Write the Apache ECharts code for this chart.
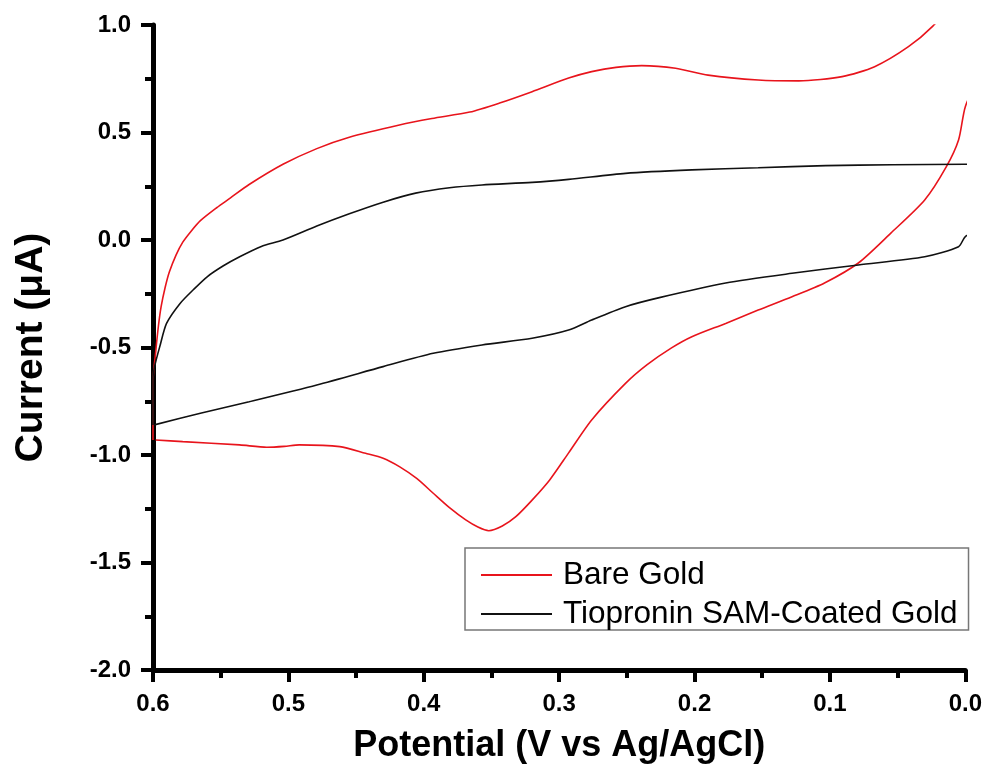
<!DOCTYPE html>
<html>
<head>
<meta charset="utf-8">
<script src="https://cdn.jsdelivr.net/npm/echarts@6/dist/echarts.min.js"></script>
<style>html,body{margin:0;padding:0;background:#fff}#c{width:985px;height:774px}</style>
</head>
<body>
<div id="c"></div>
<script>
var seriesNames = ['Bare Gold', 'Tiopronin SAM-Coated Gold'];
var xTicks = [0.6, 0.5, 0.4, 0.3, 0.2, 0.1, 0.0];
var yTicks = [1.0, 0.5, 0.0, -0.5, -1.0, -1.5, -2.0];

// Bare Gold cyclic voltammogram (potential V, current uA)
var bareX = [0.600, 0.600, 0.598, 0.596, 0.594, 0.591, 0.588, 0.583, 0.578, 0.572, 0.565, 0.553, 0.543, 0.529, 0.504, 0.479, 0.455, 0.418, 0.394, 0.366, 0.344, 0.320, 0.293, 0.276, 0.258, 0.239, 0.214, 0.190, 0.153, 0.123, 0.091, 0.067, 0.042, 0.024, 0.010, -0.020,
  -0.020, 0.000, 0.005, 0.014, 0.030, 0.055, 0.079, 0.104, 0.128, 0.153, 0.177, 0.202, 0.217, 0.235, 0.251, 0.276, 0.293, 0.307, 0.320, 0.332, 0.342, 0.352, 0.360, 0.369, 0.381, 0.393, 0.405, 0.418, 0.430, 0.443, 0.462, 0.492, 0.503, 0.516, 0.536, 0.578, 0.598];
var bareY = [-0.93, -0.66, -0.52, -0.40, -0.31, -0.22, -0.15, -0.07, -0.01, 0.04, 0.09, 0.15, 0.195, 0.258, 0.352, 0.425, 0.478, 0.535, 0.565, 0.595, 0.637, 0.69, 0.753, 0.783, 0.803, 0.811, 0.799, 0.767, 0.744, 0.740, 0.760, 0.806, 0.899, 0.995, 1.10, 1.40,
  0.95, 0.62, 0.465, 0.341, 0.186, 0.032, -0.107, -0.20, -0.264, -0.326, -0.388, -0.45, -0.502, -0.58, -0.667, -0.837, -0.99, -1.116, -1.21, -1.287, -1.33, -1.352, -1.335, -1.302, -1.245, -1.178, -1.11, -1.054, -1.015, -0.992, -0.961, -0.953, -0.96, -0.964, -0.953, -0.938, -0.93];

// Tiopronin SAM-coated gold
var samX = [0.600, 0.600, 0.5985, 0.595, 0.590, 0.580, 0.570, 0.560, 0.548, 0.536, 0.520, 0.504, 0.479, 0.455, 0.430, 0.406, 0.381, 0.357, 0.320, 0.293, 0.251, 0.202, 0.153, 0.103, 0.054, 0.000, -0.020,
  -0.020, 0.000, 0.005, 0.030, 0.079, 0.128, 0.177, 0.226, 0.251, 0.276, 0.293, 0.320, 0.357, 0.393, 0.430, 0.479, 0.529, 0.565, 0.599];
var samY = [-0.86, -0.64, -0.58, -0.496, -0.388, -0.295, -0.23, -0.171, -0.12, -0.078, -0.03, 0.0, 0.065, 0.122, 0.176, 0.218, 0.243, 0.256, 0.268, 0.282, 0.31, 0.326, 0.336, 0.346, 0.35, 0.352, 0.352,
  0.10, 0.016, -0.031, -0.078, -0.116, -0.155, -0.20, -0.268, -0.31, -0.372, -0.419, -0.457, -0.488, -0.527, -0.589, -0.674, -0.752, -0.806, -0.86];

function zip(a, b) { return a.map(function (v, i) { return [v, b[i]]; }); }

var FONT = "Arial, 'Liberation Sans', sans-serif";
var chart = echarts.init(document.getElementById('c'), null, { renderer: 'canvas' });
chart.setOption({
  backgroundColor: '#ffffff',
  animation: false,
  grid: { left: 153, right: 18, top: 25, bottom: 104, containLabel: false },
  legend: {
    orient: 'vertical',
    left: 465,
    top: 548,
    icon: 'rect',
    itemWidth: 71,
    itemHeight: 2,
    itemGap: 7,
    padding: [11, 11, 0, 16],
    borderColor: '#777',
    borderWidth: 1.5,
    backgroundColor: '#fff',
    textStyle: { fontFamily: FONT, fontSize: 31.5, color: '#000', padding: [0, 0, 0, 6] },
    data: seriesNames
  },
  xAxis: {
    type: 'value',
    inverse: true,
    min: 0,
    max: 0.6,
    interval: 0.1,
    name: 'Potential (V vs Ag/AgCl)',
    nameLocation: 'middle',
    nameGap: 58,
    nameTextStyle: { fontFamily: FONT, fontSize: 36, fontWeight: 'bold', color: '#000' },
    axisLine: { show: true, onZero: false, lineStyle: { color: '#000', width: 5 } },
    axisTick: { show: true, length: 12, lineStyle: { color: '#000', width: 4 } },
    minorTick: { show: true, splitNumber: 2, length: 8, lineStyle: { color: '#000', width: 4 } },
    axisLabel: { fontFamily: FONT, fontSize: 24, fontWeight: 'bold', color: '#000', margin: 22,
      formatter: function (v) { return xTicks.indexOf(Math.round(v * 10) / 10) >= 0 ? v.toFixed(1) : ''; } },
    splitLine: { show: false }
  },
  yAxis: {
    type: 'value',
    min: -2,
    max: 1,
    interval: 0.5,
    name: 'Current (\u03BCA)',
    nameLocation: 'middle',
    nameGap: 102,
    nameTextStyle: { fontFamily: FONT, fontSize: 39, fontWeight: 'bold', color: '#000' },
    axisLine: { show: true, onZero: false, lineStyle: { color: '#000', width: 5 } },
    axisTick: { show: true, length: 12, lineStyle: { color: '#000', width: 4 } },
    minorTick: { show: true, splitNumber: 2, length: 8, lineStyle: { color: '#000', width: 4 } },
    axisLabel: { fontFamily: FONT, fontSize: 24, fontWeight: 'bold', color: '#000', margin: 22,
      formatter: function (v) { return yTicks.indexOf(Math.round(v * 10) / 10) >= 0 ? v.toFixed(1) : ''; } },
    splitLine: { show: false }
  },
  series: [
    {
      name: seriesNames[0], type: 'line', data: zip(bareX, bareY),
      showSymbol: false, symbol: 'none', smooth: 0.25, clip: true,
      lineStyle: { color: '#e8141c', width: 1.6 }, itemStyle: { color: '#e8141c' }
    },
    {
      name: seriesNames[1], type: 'line', data: zip(samX, samY),
      showSymbol: false, symbol: 'none', smooth: 0.25, clip: true,
      lineStyle: { color: '#111', width: 1.6 }, itemStyle: { color: '#111' }
    }
  ]
});
</script>
</body>
</html>
